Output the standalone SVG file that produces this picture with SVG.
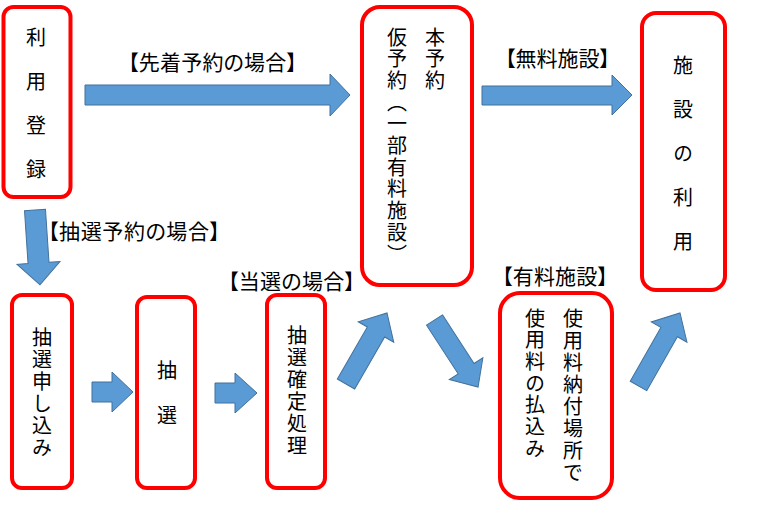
<svg xmlns="http://www.w3.org/2000/svg" width="758" height="516" viewBox="0 0 758 516">
<style>
.box{fill:#fff;stroke:#ff0000;stroke-width:4}
.arr{fill:#5b9bd5;stroke:#41719c;stroke-width:1}
.v{font-family:"Noto Sans CJK JP","Noto Sans CJK SC",sans-serif;font-size:20px;fill:#000;writing-mode:vertical-rl;text-anchor:start}
.lbl{font-family:"Noto Sans CJK JP","Noto Sans CJK SC",sans-serif;font-size:21px;fill:#000;font-feature-settings:"palt"}
</style>
<rect width="758" height="516" fill="#fff"/>
<g id="connectors">
<path class="arr" d="M85,85 L330,85 L330,74 L350,95 L330,116 L330,105 L85,105 Z"/>
<path class="arr" d="M482,86 L612,86 L612,75 L632,95 L612,115 L612,105 L482,105 Z"/>
<path class="arr" d="M92,382 L112,382 L112,372 L133,392 L112,412 L112,402 L92,402 Z"/>
<path class="arr" d="M215,383 L235,383 L235,373 L257,393 L235,413 L235,403 L215,403 Z"/>
<path class="arr" transform="translate(35,210) rotate(86.2)" d="M0,-10.5 L53,-10.5 L53,-21.5 L75,0 L53,21.5 L53,10.5 L0,10.5 Z"/>
<path class="arr" transform="translate(346,384) rotate(-60)" d="M0,-10 L60,-10 L60,-20.5 L82,0 L60,20.5 L60,10 L0,10 Z"/>
<path class="arr" transform="translate(434.5,320) rotate(57)" d="M0,-9.5 L58,-9.5 L58,-20 L80,0 L58,20 L58,9.5 L0,9.5 Z"/>
<path class="arr" transform="translate(638.5,386) rotate(-60.4)" d="M0,-9.5 L62,-9.5 L62,-20.5 L84,0 L62,20.5 L62,9.5 L0,9.5 Z"/>
</g>
<g id="labels">
<text class="lbl" x="128" y="70" textLength="169">【先着予約の場合】</text>
<text class="lbl" x="48" y="239" textLength="172">【抽選予約の場合】</text>
<text class="lbl" x="228" y="289" textLength="127">【当選の場合】</text>
<text class="lbl" x="505" y="66" textLength="105">【無料施設】</text>
<text class="lbl" x="502" y="284" textLength="106">【有料施設】</text>
</g>
<g id="node-riyou-touroku">
<rect class="box" x="3.5" y="7" width="67" height="190" rx="10"/>
<text class="v" x="36" y="27" letter-spacing="24">利用登録</text>
</g>
<g id="node-yoyaku">
<rect class="box" x="362" y="7" width="110" height="278" rx="18"/>
<text class="v" x="435" y="27" letter-spacing="1.7">本予約</text>
<text class="v" x="397" y="27" letter-spacing="1.7">仮予約（一部有料施設）</text>
</g>
<g id="node-shisetsu-riyou">
<rect class="box" x="642" y="13" width="83" height="277" rx="14"/>
<text class="v" x="683" y="55" letter-spacing="24">施設の利用</text>
</g>
<g id="node-chusen-moushikomi">
<rect class="box" x="12" y="295" width="60" height="193" rx="10"/>
<text class="v" x="42" y="327" letter-spacing="2">抽選申し込み</text>
</g>
<g id="node-chusen">
<rect class="box" x="137" y="297" width="58" height="191" rx="10"/>
<text class="v" x="167" y="360" letter-spacing="25">抽選</text>
</g>
<g id="node-chusen-kakutei">
<rect class="box" x="267" y="295" width="58" height="193" rx="10"/>
<text class="v" x="297" y="325" letter-spacing="2">抽選確定処理</text>
</g>
<g id="node-shiyouryou">
<rect class="box" x="500" y="293" width="112" height="205" rx="20"/>
<text class="v" x="573" y="308" letter-spacing="2">使用料納付場所で</text>
<text class="v" x="535" y="308" letter-spacing="1.7">使用料の払込み</text>
</g>
</svg>
